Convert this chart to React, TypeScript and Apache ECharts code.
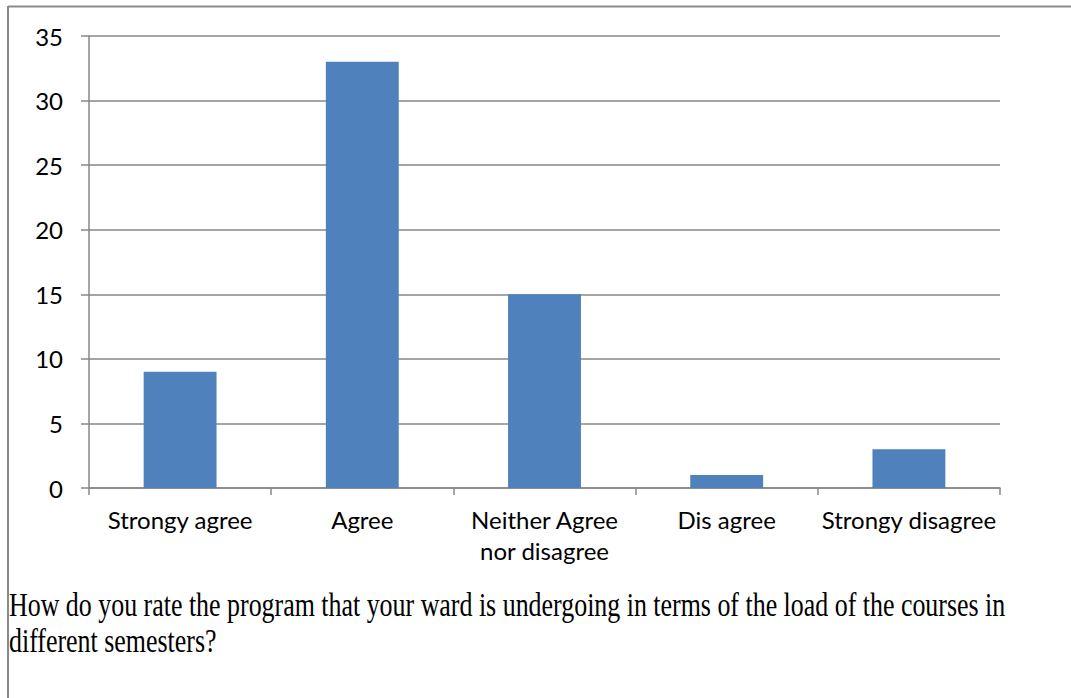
import React, { useEffect, useRef } from "react";
import * as echarts from "echarts";

const categories = ["Strongy agree", "Agree", "Neither Agree\nnor disagree", "Dis agree", "Strongy disagree"];
const values = [9, 33, 15, 1, 3];
const captionLines = [
  "How do you rate the program that your ward is undergoing in terms of the load of the courses in",
  "different semesters?",
];

export default function App() {
  const ref = useRef<HTMLDivElement>(null);
  useEffect(() => {
    if (!ref.current) return;
    const chart = echarts.init(ref.current, null, { renderer: "svg" });
    const gray = "#878787";
    const labelFont = "Lato";
    chart.setOption({
      animation: false,
      backgroundColor: "#ffffff",
      grid: { left: 89, right: 71, top: 36, bottom: 210 },
      xAxis: {
        type: "category",
        data: categories,
        axisLine: { show: true, lineStyle: { color: gray, width: 1.5 } },
        axisTick: { show: true, length: 7, lineStyle: { color: gray, width: 1.5 } },
        axisLabel: {
          color: "#000",
          fontFamily: labelFont,
          fontSize: 24,
          lineHeight: 31,
          margin: 16,
          interval: 0,
        },
      },
      yAxis: {
        type: "value",
        min: 0,
        max: 35,
        interval: 5,
        axisLine: { show: true, lineStyle: { color: gray, width: 1.5 } },
        axisTick: { show: true, length: 8, lineStyle: { color: gray, width: 1.5 } },
        splitLine: { show: true, lineStyle: { color: gray, width: 1.5 } },
        axisLabel: { color: "#000", fontFamily: labelFont, fontSize: 24, margin: 26 },
      },
      series: [
        {
          type: "bar",
          data: values,
          barCategoryGap: "60%",
          itemStyle: { color: "#4F81BD" },
        },
      ],
      graphic: [
        { type: "line", shape: { x1: 8, y1: 6.5, x2: 1071, y2: 6.5 }, style: { stroke: "#8a8a8a", lineWidth: 2 } },
        { type: "line", shape: { x1: 8, y1: 6, x2: 8, y2: 698 }, style: { stroke: "#8a8a8a", lineWidth: 2 } },
        {
          type: "text",
          x: 9,
          y: 587,
          scaleX: 0.81,
          scaleY: 1.05,
          style: { text: captionLines[0], fontFamily: "Liberation Serif", fontSize: 32, fill: "#000", verticalAlign: "top" },
        },
        {
          type: "text",
          x: 9,
          y: 623,
          scaleX: 0.81,
          scaleY: 1.05,
          style: { text: captionLines[1], fontFamily: "Liberation Serif", fontSize: 32, fill: "#000", verticalAlign: "top" },
        },
      ],
    });
    return () => chart.dispose();
  }, []);
  return <div ref={ref} style={{ position: "absolute", left: 0, top: 0, width: 1071, height: 698 }} />;
}
